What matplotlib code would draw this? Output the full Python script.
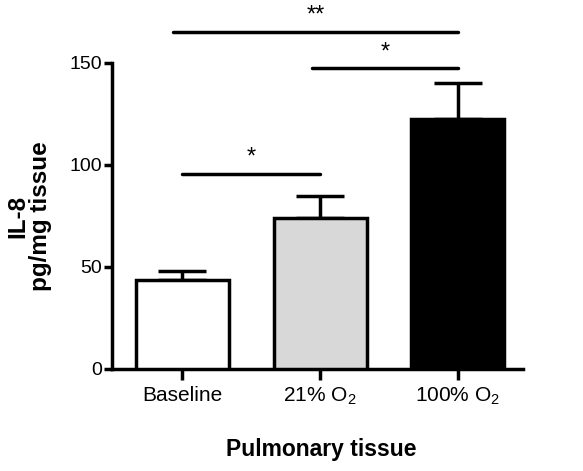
import matplotlib
matplotlib.use("Agg")
import matplotlib.pyplot as plt

plt.rcParams['font.family'] = ['Liberation Sans', 'DejaVu Sans']
plt.rcParams['mathtext.fontset'] = 'custom'
plt.rcParams['mathtext.rm'] = 'Liberation Sans'

groups = ["Baseline", "21% O$_\\mathregular{2}$", "100% O$_\\mathregular{2}$"]
means = [43.6, 73.8, 122.4]
sem = [4.5, 11.1, 17.5]
colors = ["white", "#d8d8d8", "black"]

# significance brackets: (start, end, height, label)
sig_lines = [(0.0, 1.0, 95.5, "*"), (0.94, 2.0, 147.3, "*"), (-0.065, 2.0, 165.2, "**")]

fig = plt.figure(figsize=(5.83, 4.71), dpi=100)
ax = fig.add_axes([0.1916, 0.2166, 0.705, 0.7834])

x = range(len(means))
lw = 2.5
ax.bar(x, means, width=0.675, color=colors, edgecolor="black", linewidth=lw, zorder=3)
ax.errorbar(x, means, yerr=[[0] * 3, sem], fmt="none", ecolor="black",
            elinewidth=lw, capsize=17, capthick=lw, zorder=2)

for x1, x2, y, lab in sig_lines:
    ax.plot([x1, x2], [y, y], color="black", lw=lw, clip_on=False, solid_capstyle="round")
    ax.text((x1 + x2) / 2, y + 2.5, lab, ha="center", va="bottom", fontsize=17)

ax.set_xlim(-0.513, 2.472)
ax.set_ylim(0, 180.7)
ax.set_yticks([0, 50, 100, 150])
ax.set_xticks(list(x))
ax.set_xticklabels(groups, fontsize=15)
ax.tick_params(axis="y", labelsize=14, width=lw, length=6, pad=1)
ax.tick_params(axis="x", width=lw, length=8, pad=4)

for s in ["top", "right"]:
    ax.spines[s].set_visible(False)
for s in ["left", "bottom"]:
    ax.spines[s].set_linewidth(lw)
ax.spines["left"].set_bounds(0, 150)

fig.text(0.05, 0.541, "IL-8\npg/mg tissue", rotation=90, ha="center", va="center",
         fontsize=17.5, fontweight="bold", multialignment="center", linespacing=1.0)
fig.text(320.8 / 583, 0.045, "Pulmonary tissue", ha="center", va="center",
         fontsize=16.5, fontweight="bold")

fig.savefig("out.png", dpi=100)
